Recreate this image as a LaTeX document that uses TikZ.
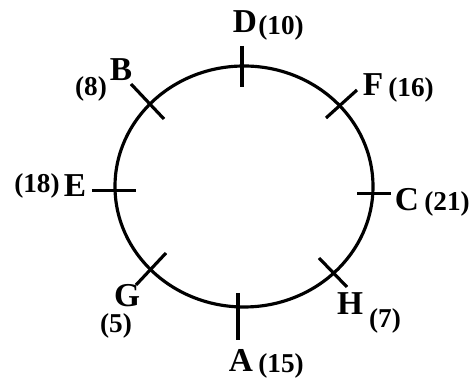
\documentclass[tikz,border=0pt]{standalone}
\usepackage{fontspec}
\setmainfont{Liberation Serif}
\tikzset{
    ptname/.style={font=\fontsize{19}{19}\selectfont\bfseries, inner sep=0pt},
    ptval/.style={font=\fontsize{15.5}{16}\selectfont\bfseries, inner sep=0pt}
}
\begin{document}
\begin{tikzpicture}[line width=1.8pt]
    \useasboundingbox (-4.88,-3.87) rectangle (4.62,3.73);
    % Round table with eight seats marked by ticks.
    \draw (0,0) ellipse (2.58 and 2.41);

    \draw (-0.04,2.81) -- (-0.04,1.99);
    \draw (-0.12,-2.13) -- (-0.12,-3.07);
    \draw (-3.04,-0.08) -- (-2.16,-0.08);
    \draw (2.26,-0.14) -- (2.94,-0.14);
    \draw (-2.26,2.05) -- (-1.60,1.35);
    \draw (2.26,1.93) -- (1.64,1.37);
    \draw (-1.56,-1.33) -- (-2.16,-1.97);
    \draw (1.50,-1.43) -- (2.06,-2.01);

    \node[ptname] (D) at (0.02,3.29) {D};
    \node[ptval] (Dv) at (0.74,3.17) {(10)};
    \node[ptname] (B) at (-2.46,2.33) {B};
    \node[ptval] (Bv) at (-3.06,1.95) {(8)};
    \node[ptname] (F) at (2.58,2.03) {F};
    \node[ptval] (Fv) at (3.34,1.93) {(16)};
    \node[ptname] (E) at (-3.38,0.01) {E};
    \node[ptval] (Ev) at (-4.14,0.01) {(18)};
    \node[ptname] (C) at (3.26,-0.27) {C};
    \node[ptval] (Cv) at (4.06,-0.35) {(21)};
    \node[ptname] (G) at (-2.34,-2.19) {G};
    \node[ptval] (Gv) at (-2.56,-2.78) {(5)};
    \node[ptname] (H) at (2.12,-2.35) {H};
    \node[ptval] (Hv) at (2.82,-2.69) {(7)};
    \node[ptname] (A) at (-0.06,-3.47) {A};
    \node[ptval] (Av) at (0.74,-3.59) {(15)};
\end{tikzpicture}
\end{document}
